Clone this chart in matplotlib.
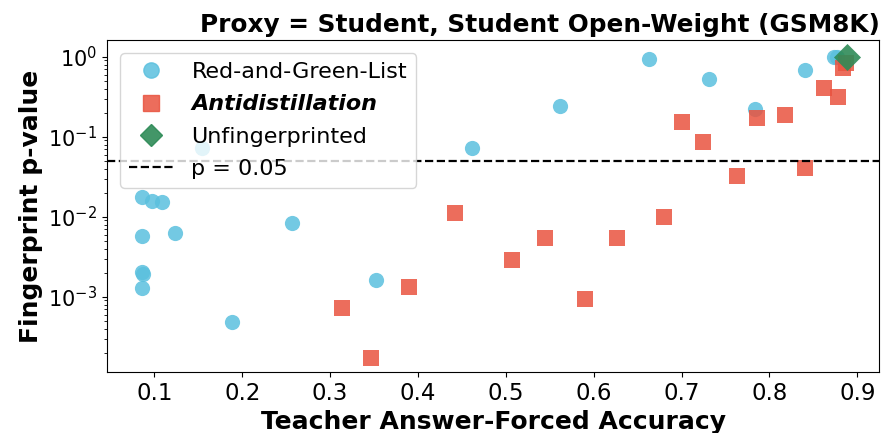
import matplotlib
matplotlib.use("Agg")
import matplotlib.pyplot as plt
from matplotlib.lines import Line2D

plt.rcParams["axes.unicode_minus"] = False

# Red-and-Green-List fingerprint results
rg_acc = [0.154, 0.0857, 0.097, 0.108, 0.0857, 0.1235, 0.0857, 0.0875, 0.0857, 0.188,
          0.2568, 0.3516, 0.4614, 0.5618, 0.6625, 0.7315, 0.7838, 0.840, 0.8735, 0.877]
rg_p = [0.0716, 0.0178, 0.0158, 0.0151, 0.00575, 0.0063, 0.00205, 0.00192, 0.00127, 0.00049,
        0.00826, 0.00162, 0.0716, 0.244, 0.928, 0.521, 0.224, 0.682, 1.0, 1.0]

# Antidistillation results
ad_acc = [0.3136, 0.3463, 0.3898, 0.4417, 0.5065, 0.544, 0.5895, 0.627, 0.680, 0.700,
          0.724, 0.7636, 0.7853, 0.8175, 0.840, 0.8625, 0.878, 0.884, 0.887]
ad_p = [0.000729, 0.000173, 0.00132, 0.0112, 0.00288, 0.00537, 0.00093, 0.00537, 0.0100, 0.154,
        0.0866, 0.0325, 0.17, 0.187, 0.041, 0.403, 0.31, 0.715, 0.827]

# Unfingerprinted baseline
un_acc = [0.888]
un_p = [1.0]

threshold = 0.05

blue = "#5bc0de"
red = "#e9533f"
green = "#2e8b57"

fig, ax = plt.subplots(figsize=(8.81, 4.33), dpi=100)
fig.subplots_adjust(left=0.1215, right=0.998, top=0.9076, bottom=0.1409)

ax.scatter(rg_acc, rg_p, s=120, marker="o", color=blue, alpha=0.85, linewidths=0)
ax.scatter(ad_acc, ad_p, s=130, marker="s", color=red, alpha=0.85, linewidths=0)
ax.scatter(un_acc, un_p, s=190, marker="D", color=green, alpha=0.9, linewidths=0)
ax.axhline(threshold, color="black", linestyle="--", linewidth=1.6)

ax.set_yscale("log")
ax.set_xlim(0.046, 0.925)
ax.set_ylim(10 ** -3.94, 10 ** 0.21)

ax.set_title("Proxy = Student, Student Open-Weight (GSM8K)", fontsize=17.8, fontweight="bold", x=0.56)
ax.set_xlabel("Teacher Answer-Forced Accuracy", fontsize=18, fontweight="bold")
ax.set_ylabel("Fingerprint p-value", fontsize=18, fontweight="bold")
ax.tick_params(axis="y", labelsize=15)
ax.tick_params(axis="x", labelsize=16.5)

handles = [
    Line2D([], [], marker="o", linestyle="", markersize=11, color=blue, alpha=0.85),
    Line2D([], [], marker="s", linestyle="", markersize=11, color=red, alpha=0.85),
    Line2D([], [], marker="D", linestyle="", markersize=11, color=green, alpha=0.9),
    Line2D([], [], color="black", linestyle="--", linewidth=1.6),
]
labels = ["Red-and-Green-List", "Antidistillation", "Unfingerprinted", "p = 0.05"]
leg = ax.legend(handles, labels, loc="upper left", fontsize=16, framealpha=0.8,
                borderaxespad=0.6, handletextpad=0.8, labelspacing=0.55)
leg.get_texts()[1].set_fontweight("bold")
leg.get_texts()[1].set_fontstyle("italic")

fig.savefig("out.png", dpi=100)
